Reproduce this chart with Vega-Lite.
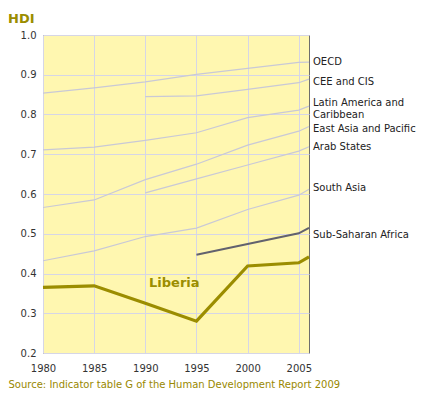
{
  "$schema": "https://vega.github.io/schema/vega-lite/v6.json",
  "width": 266,
  "height": 318,
  "autosize": "none",
  "padding": {"left": 43, "top": 35, "right": 124, "bottom": 43},
  "background": "white",
  "title": {"text": "HDI", "anchor": "start", "dx": 0, "offset": 4, "font": "DejaVu Sans", "fontSize": 13, "fontWeight": "bold", "color": "#9b8d00"},
  "config": {
    "view": {"fill": "#fff7b0", "stroke": "#6e6e6e", "strokeWidth": 1},
    "axis": {"labelFont": "DejaVu Sans", "labelFontSize": 10, "labelColor": "#333333", "gridColor": "#d6d6e6", "gridWidth": 1, "ticks": false, "domain": false}
  },
  "datasets": {
    "hdi": [
      {"region": "OECD", "year": 1980, "hdi": 0.854},
      {"region": "OECD", "year": 1985, "hdi": 0.867},
      {"region": "OECD", "year": 1990, "hdi": 0.882},
      {"region": "OECD", "year": 1995, "hdi": 0.901},
      {"region": "OECD", "year": 2000, "hdi": 0.916},
      {"region": "OECD", "year": 2005, "hdi": 0.931},
      {"region": "OECD", "year": 2006, "hdi": 0.932, "label": "OECD"},
      {"region": "CEE and CIS", "year": 1990, "hdi": 0.845},
      {"region": "CEE and CIS", "year": 1995, "hdi": 0.847},
      {"region": "CEE and CIS", "year": 2000, "hdi": 0.863},
      {"region": "CEE and CIS", "year": 2005, "hdi": 0.880},
      {"region": "CEE and CIS", "year": 2006, "hdi": 0.889, "label": "CEE and CIS"},
      {"region": "Latin America and Caribbean", "year": 1980, "hdi": 0.711},
      {"region": "Latin America and Caribbean", "year": 1985, "hdi": 0.718},
      {"region": "Latin America and Caribbean", "year": 1990, "hdi": 0.735},
      {"region": "Latin America and Caribbean", "year": 1995, "hdi": 0.754},
      {"region": "Latin America and Caribbean", "year": 2000, "hdi": 0.792},
      {"region": "Latin America and Caribbean", "year": 2005, "hdi": 0.811},
      {"region": "Latin America and Caribbean", "year": 2006, "hdi": 0.821, "label": "Latin America and\nCaribbean"},
      {"region": "East Asia and Pacific", "year": 1980, "hdi": 0.566},
      {"region": "East Asia and Pacific", "year": 1985, "hdi": 0.585},
      {"region": "East Asia and Pacific", "year": 1990, "hdi": 0.636},
      {"region": "East Asia and Pacific", "year": 1995, "hdi": 0.675},
      {"region": "East Asia and Pacific", "year": 2000, "hdi": 0.723},
      {"region": "East Asia and Pacific", "year": 2005, "hdi": 0.758},
      {"region": "East Asia and Pacific", "year": 2006, "hdi": 0.770, "label": "East Asia and Pacific"},
      {"region": "Arab States", "year": 1990, "hdi": 0.603},
      {"region": "Arab States", "year": 1995, "hdi": 0.638},
      {"region": "Arab States", "year": 2000, "hdi": 0.673},
      {"region": "Arab States", "year": 2005, "hdi": 0.708},
      {"region": "Arab States", "year": 2006, "hdi": 0.719, "label": "Arab States"},
      {"region": "South Asia", "year": 1980, "hdi": 0.432},
      {"region": "South Asia", "year": 1985, "hdi": 0.457},
      {"region": "South Asia", "year": 1990, "hdi": 0.493},
      {"region": "South Asia", "year": 1995, "hdi": 0.514},
      {"region": "South Asia", "year": 2000, "hdi": 0.561},
      {"region": "South Asia", "year": 2005, "hdi": 0.597},
      {"region": "South Asia", "year": 2006, "hdi": 0.612, "label": "South Asia"},
      {"region": "Sub-Saharan Africa", "year": 1995, "hdi": 0.447},
      {"region": "Sub-Saharan Africa", "year": 2000, "hdi": 0.474},
      {"region": "Sub-Saharan Africa", "year": 2005, "hdi": 0.501},
      {"region": "Sub-Saharan Africa", "year": 2006, "hdi": 0.515, "label": "Sub-Saharan Africa"},
      {"region": "Liberia", "year": 1980, "hdi": 0.365},
      {"region": "Liberia", "year": 1985, "hdi": 0.369},
      {"region": "Liberia", "year": 1990, "hdi": 0.325, "label": "Liberia"},
      {"region": "Liberia", "year": 1995, "hdi": 0.280},
      {"region": "Liberia", "year": 2000, "hdi": 0.419},
      {"region": "Liberia", "year": 2005, "hdi": 0.427},
      {"region": "Liberia", "year": 2006, "hdi": 0.442}
    ]
  },
  "data": {"name": "hdi"},
  "encoding": {
    "x": {"field": "year", "type": "quantitative",
      "scale": {"domain": [1980, 2006], "nice": false, "zero": false},
      "axis": {"values": [1980, 1985, 1990, 1995, 2000, 2005], "format": "d", "labelPadding": 10, "labelFlush": false,
        "title": "Source: Indicator table G of the Human Development Report 2009",
        "titleFont": "DejaVu Sans", "titleFontSize": 10, "titleFontWeight": "normal", "titleColor": "#998800",
        "titleAnchor": "start", "titleAlign": "left", "titleBaseline": "middle", "titleX": -35, "titleY": 31}},
    "y": {"field": "hdi", "type": "quantitative",
      "scale": {"domain": [0.2, 1.0], "nice": false, "zero": false},
      "axis": {"values": [0.2, 0.3, 0.4, 0.5, 0.6, 0.7, 0.8, 0.9, 1.0], "format": ".1f", "labelPadding": 7, "title": null}}
  },
  "layer": [
    {
      "transform": [{"filter": "datum.region != 'Liberia' && datum.region != 'Sub-Saharan Africa'"}],
      "mark": {"type": "line", "color": "#c9c9d6", "strokeWidth": 1.2},
      "encoding": {"detail": {"field": "region"}}
    },
    {
      "transform": [{"filter": "datum.region == 'Sub-Saharan Africa'"}],
      "mark": {"type": "line", "color": "#62626e", "strokeWidth": 2},
      "encoding": {}
    },
    {
      "transform": [{"filter": "datum.region == 'Liberia'"}],
      "mark": {"type": "line", "color": "#9b8d00", "strokeWidth": 3.2},
      "encoding": {}
    },
    {
      "transform": [{"filter": "datum.year == 2006 && (datum.region == 'OECD' || datum.region == 'Arab States')"}],
      "mark": {"type": "text", "align": "left", "baseline": "middle", "dx": 4, "font": "DejaVu Sans", "fontSize": 10, "color": "#222222"},
      "encoding": {"text": {"field": "label"}}
    },
    {
      "transform": [{"filter": "datum.year == 2006 && (datum.region == 'CEE and CIS' || datum.region == 'East Asia and Pacific')"}],
      "mark": {"type": "text", "align": "left", "baseline": "middle", "dx": 4, "dy": 3, "font": "DejaVu Sans", "fontSize": 10, "color": "#222222"},
      "encoding": {"text": {"field": "label"}}
    },
    {
      "transform": [{"filter": "datum.year == 2006 && datum.region == 'Latin America and Caribbean'"}],
      "mark": {"type": "text", "align": "left", "baseline": "middle", "dx": 4, "dy": -3, "font": "DejaVu Sans", "fontSize": 10, "color": "#222222", "lineBreak": "\n", "lineHeight": 12},
      "encoding": {"text": {"field": "label"}}
    },
    {
      "transform": [{"filter": "datum.year == 2006 && datum.region == 'South Asia'"}],
      "mark": {"type": "text", "align": "left", "baseline": "middle", "dx": 4, "dy": -1, "font": "DejaVu Sans", "fontSize": 10, "color": "#222222"},
      "encoding": {"text": {"field": "label"}}
    },
    {
      "transform": [{"filter": "datum.year == 2006 && datum.region == 'Sub-Saharan Africa'"}],
      "mark": {"type": "text", "align": "left", "baseline": "middle", "dx": 4, "dy": 7, "font": "DejaVu Sans", "fontSize": 10, "color": "#222222"},
      "encoding": {"text": {"field": "label"}}
    },
    {
      "transform": [{"filter": "datum.year == 1990 && datum.region == 'Liberia'"}],
      "mark": {"type": "text", "align": "center", "baseline": "middle", "dx": 29, "dy": -20, "font": "DejaVu Sans", "fontSize": 13, "fontWeight": "bold", "color": "#9b8d00"},
      "encoding": {"text": {"field": "label"}}
    }
  ]
}
